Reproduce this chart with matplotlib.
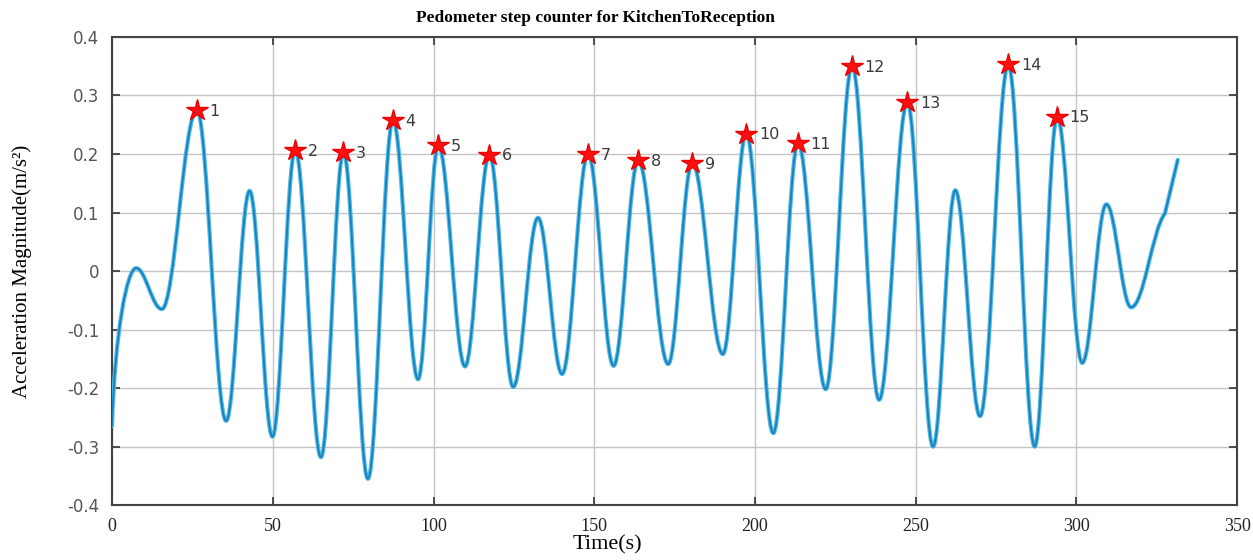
import numpy as np
import matplotlib.pyplot as plt
from matplotlib.path import Path
from matplotlib.patches import PathPatch

# turning points of the filtered acceleration magnitude (time in s, value in m/s^2)
t_turn = [0.0, 7.5, 15.5, 26.4, 35.5, 42.8, 49.9, 57.0, 65.0, 72.0, 79.6,
          87.4, 95.2, 101.5, 109.8, 117.4, 124.8, 132.5, 140.0, 148.1, 156.0,
          163.7, 173.0, 180.5, 190.0, 197.3, 205.7, 213.4, 222.0, 230.2, 238.6,
          247.4, 255.4, 262.3, 270.0, 278.8, 287.0, 294.0, 301.8, 309.3, 317.0,
          327.5, 331.5]
a_turn = [-0.265, 0.005, -0.065, 0.275, -0.256, 0.137, -0.283, 0.207, -0.318,
          0.203, -0.355, 0.258, -0.185, 0.215, -0.163, 0.199, -0.198, 0.091,
          -0.176, 0.200, -0.162, 0.189, -0.159, 0.185, -0.142, 0.235, -0.277,
          0.219, -0.202, 0.351, -0.220, 0.289, -0.300, 0.138, -0.248, 0.353,
          -0.300, 0.264, -0.157, 0.114, -0.062, 0.098, 0.190]

# detected steps: indices into the turning points above
step_idx = [3, 7, 9, 11, 13, 15, 19, 21, 23, 25, 27, 29, 31, 35, 37]
step_labels = [str(i + 1) for i in range(len(step_idx))]

xticks = [0, 50, 100, 150, 200, 250, 300, 350]
yticks = [0.4, 0.3, 0.2, 0.1, 0, -0.1, -0.2, -0.3, -0.4]
ytick_labels = ["0.4", "0.3", "0.2", "0.1", "0", "-0.1", "-0.2", "-0.3", "-0.4"]

# smooth curve: cubic segments with flat tangents at every turning point
verts = [(t_turn[0], a_turn[0])]
codes = [Path.MOVETO]
n = len(t_turn)
for i in range(n - 1):
    x0, y0 = t_turn[i], a_turn[i]
    x1, y1 = t_turn[i + 1], a_turn[i + 1]
    dx, dy = x1 - x0, y1 - y0
    if i == n - 2:
        verts.append((x1, y1))
        codes.append(Path.LINETO)
        continue
    if i == 0:
        c1 = (x0 + 0.12 * dx, y0 + 0.6 * dy)
    else:
        c1 = (x0 + 0.37 * dx, y0)
    if i == n - 3:
        c2 = (x1 - 0.37 * dx, y1 - 0.025)
    else:
        c2 = (x1 - 0.37 * dx, y1)
    verts += [c1, c2, (x1, y1)]
    codes += [Path.CURVE4] * 3
curve = Path(verts, codes)

fig = plt.figure(figsize=(12.53, 5.6), dpi=100)
ax = fig.add_axes([0.0894, 0.098, 0.898, 0.836])

ax.add_patch(PathPatch(curve, fill=False, edgecolor="#4fb9e6", lw=3.0, zorder=3,
                       capstyle="round", joinstyle="round"))
ax.add_patch(PathPatch(curve, fill=False, edgecolor="#1a80b9", lw=1.3, zorder=4,
                       capstyle="round", joinstyle="round"))

st = [t_turn[i] for i in step_idx]
sa = [a_turn[i] for i in step_idx]
ax.plot(st, sa, ls="none", marker="*", ms=16, color="#ff1010",
        markeredgecolor="#ee0000", zorder=6)
for x, y, lab in zip(st, sa, step_labels):
    ax.annotate(lab, (x, y), xytext=(9, -1), textcoords="offset points",
                ha="left", va="center", fontsize=11.5, color="#3a3a3a",
                family="DejaVu Sans", zorder=5)

ax.set_xlim(0, 350)
ax.set_ylim(-0.4, 0.4)
ax.set_xticks(xticks)
ax.set_yticks(yticks)
ax.set_yticklabels(ytick_labels, family="DejaVu Sans", fontsize=12, color="#555555")
ax.set_xticklabels([str(v) for v in xticks], family="Liberation Serif", fontsize=13,
                   color="#222222")
ax.tick_params(direction="in", length=6, width=1.2, color="#333333",
               top=True, right=True, pad=9)
ax.grid(True, color="#c4c4c4", lw=1.0)
for sp in ax.spines.values():
    sp.set_color("#444444")
    sp.set_linewidth(1.5)

ax.set_xlabel("Time(s)", family="Liberation Serif", fontsize=16, labelpad=0)
ax.set_ylabel("Acceleration Magnitude(m/s²)", family="Liberation Serif",
              fontsize=15, labelpad=10)
ax.xaxis.set_label_coords(0.44, -0.064)
ax.yaxis.set_label_coords(-0.071, 0.5)
fig.text(0.475, 0.968, "Pedometer step counter for KitchenToReception",
         family="Liberation Serif", fontweight="bold", fontsize=12.5,
         ha="center", va="center")

fig.savefig("out.png", dpi=100, facecolor="white")
